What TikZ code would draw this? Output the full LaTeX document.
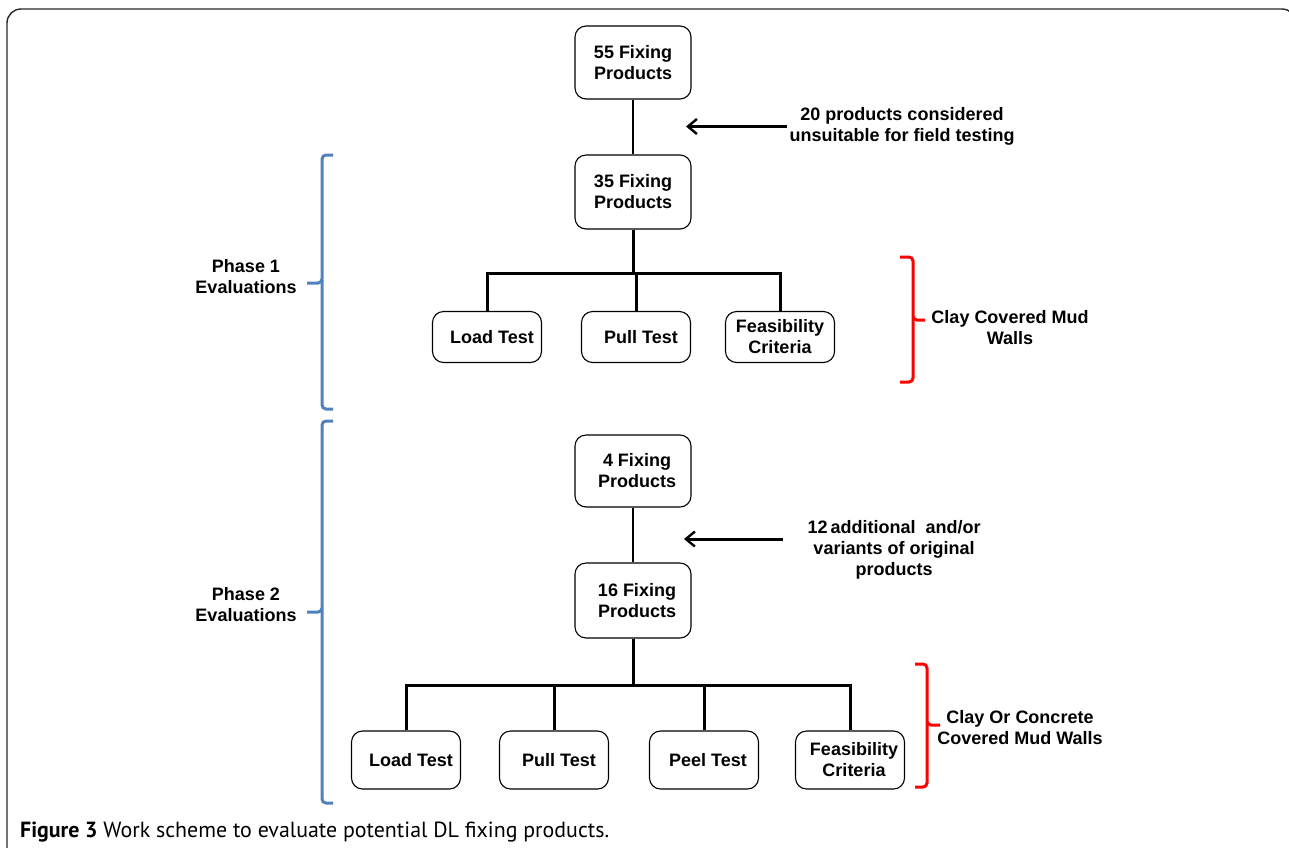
\documentclass[tikz,border=0pt]{standalone}
\usepackage{fontspec}
\setmainfont{Liberation Sans}
\newfontfamily\capfont{PT Sans}
\usetikzlibrary{arrows.meta}
\newcommand\dgfont{\fontsize{18}{21}\selectfont\bfseries}
\definecolor{braceblue}{RGB}{79,129,189}
\definecolor{framegray}{RGB}{40,40,40}
\begin{document}
\begin{tikzpicture}[x=1pt,y=-1pt,
  box/.style={draw, line width=1.1pt, rounded corners=11pt, align=center, inner sep=0pt, font=\dgfont},
  bigbox/.style={box, minimum width=116pt, minimum height=73pt},
  testbox/.style={box, minimum width=109pt, minimum height=51pt},
  testboxb/.style={box, minimum width=109pt, minimum height=58pt},
  lbl/.style={align=center, font=\dgfont, inner sep=2pt},
  thinlink/.style={line width=2.2pt},
  treelink/.style={line width=3pt},
  arr/.style={line width=3pt, -{Straight Barb[length=9pt,width=15pt,line width=2.4pt]}},
  bbrace/.style={draw=braceblue, line width=3pt, rounded corners=4pt},
  rbrace/.style={draw=red, line width=3pt, rounded corners=4pt}
]
\useasboundingbox (0,0) rectangle (1289,847);
% frame
\draw[framegray, line width=1.4pt, rounded corners=14pt] (7,860) -- (7,9) -- (1296,9) -- (1296,860);

% top part
\node[bigbox] (b55) at (633,62.5) {55 Fixing\\Products};
\node[bigbox, minimum height=74pt] (b35) at (633,192) {35 Fixing\\Products};
\node[testbox] (l1) at (487,337) {\hspace*{10pt}Load Test};
\node[testbox] (p1) at (636,337) {\hspace*{10pt}Pull Test};
\node[testbox] (f1) at (780,337) {Feasibility\\Criteria};
\coordinate (j1) at (634,273);

\draw[thinlink] (b55.south) -- (b35.north);
\draw[treelink] (b35.south) -- (b35.south |- j1);
\draw[treelink] (l1.north) -- (l1.north |- j1) -- (f1.north |- j1) -- (f1.north);
\draw[treelink] (p1.north) -- (p1.north |- j1);

\node[lbl] (t20) at (902,126.5) {20 products considered\\unsuitable for field testing};
\coordinate (a1e) at (686,126.5);
\draw[arr] (t20.west) -- (a1e);

% bottom part
\node[bigbox, minimum height=72pt] (b4) at (633,471) {\hspace*{8pt}4 Fixing\\\hspace*{8pt}Products};
\node[bigbox, minimum height=75pt] (b16) at (633,600.5) {\hspace*{8pt}16 Fixing\\\hspace*{8pt}Products};
\draw[thinlink] (b4.south) -- (b16.north);

\node[lbl] (t12) at (894,550) {12\,additional\ \ and/or\\variants of original\\products};
\coordinate (a2s) at (783,539);
\coordinate (a2e) at (684,539);
\draw[arr] (a2s) -- (a2e);

\node[testboxb] (l2) at (406,760) {\hspace*{10pt}Load Test};
\node[testboxb] (p2) at (554,760) {\hspace*{10pt}Pull Test};
\node[testboxb] (pe2) at (704,760) {\hspace*{8pt}Peel Test};
\node[testboxb] (f2) at (850,760) {\hspace*{8pt}Feasibility\\\hspace*{8pt}Criteria};
\coordinate (j2) at (633,685);
\draw[treelink] (b16.south) -- (b16.south |- j2);
\draw[treelink] (l2.north) -- (l2.north |- j2) -- (f2.north |- j2) -- (f2.north);
\draw[treelink] (p2.north) -- (p2.north |- j2);
\draw[treelink] (pe2.north) -- (pe2.north |- j2);

% phase labels and braces
\node[lbl] (ph1) at (246,276.5) {Phase 1\\Evaluations};
\node[lbl] (ph2) at (246,604.5) {Phase 2\\Evaluations};
\draw[bbrace] (333,155) -- (322,155) -- (322,283) -- (307,283);
\draw[bbrace] (322,280) -- (322,409) -- (333,409);
\draw[bbrace] (333,421) -- (322,421) -- (322,612) -- (307,612);
\draw[bbrace] (322,609) -- (322,803) -- (333,803);

\node[lbl] (c1) at (1010,328) {Clay Covered Mud\\Walls};
\node[lbl] (c2) at (1020,727.5) {Clay Or Concrete\\Covered Mud Walls};
\draw[rbrace] (900,257) -- (913,257) -- (913,320) -- (925,320);
\draw[rbrace] (913,317) -- (913,382) -- (900,382);
\draw[rbrace] (915,664) -- (927,664) -- (927,725) -- (940,725);
\draw[rbrace] (927,722) -- (927,787) -- (915,787);

% caption
\node[anchor=base west, inner sep=0pt, font=\capfont\fontsize{21.9}{24}\selectfont] (cap) at (20,837) {\textbf{Figure 3} Work scheme to evaluate potential DL fixing products.};
\end{tikzpicture}
\end{document}
